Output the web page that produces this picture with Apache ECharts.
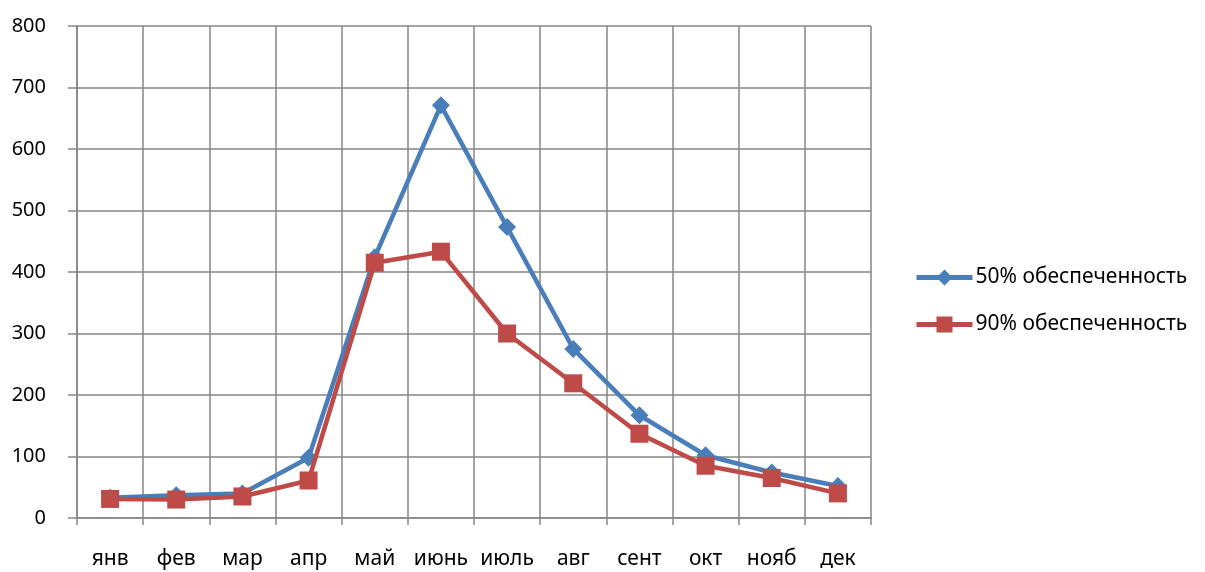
<!DOCTYPE html>
<html><head><meta charset="utf-8">
<script src="https://cdn.jsdelivr.net/npm/echarts@6/dist/echarts.min.js"></script>
<style>html,body{margin:0;padding:0;background:#fff}#c{width:1205px;height:572px}</style>
</head><body><div id="c"></div>
<script>
const categories = ['янв','фев','мар','апр','май','июнь','июль','авг','сент','окт','нояб','дек'];
const series50 = [33, 37, 40, 98, 424, 671, 473, 275, 167, 102, 74, 52];
const series90 = [31, 30, 35, 61, 415, 433, 300, 219, 137, 85, 65, 40];
const seriesNames = ['50% обеспеченность', '90% обеспеченность'];
const yTicks = {min: 0, max: 800, interval: 100};

const font = 'Noto Sans';
const chart = echarts.init(document.getElementById('c'));
chart.setOption({
  animation: false,
  backgroundColor: '#fff',
  grid: {left: 77, top: 26, right: 334, bottom: 54, containLabel: false},
  legend: {
    orient: 'vertical', left: 909, top: 262, itemGap: 26,
    itemWidth: 56, itemHeight: 20,
    lineStyle: {width: 5},
    textStyle: {fontFamily: font, fontSize: 21, color: '#000', padding: [0,0,0,-2]},
    data: seriesNames
  },
  xAxis: {
    type: 'category', data: categories, boundaryGap: true,
    axisLine: {lineStyle: {color: '#868686', width: 1.5}},
    axisTick: {show: true, interval: 0, length: 7, lineStyle: {color: '#868686', width: 1.5}},
    splitLine: {show: true, interval: 0, lineStyle: {color: '#868686', width: 1.5}},
    axisLabel: {interval: 0, fontFamily: font, fontSize: 21, color: '#000', margin: 31}
  },
  yAxis: {
    type: 'value', min: yTicks.min, max: yTicks.max, interval: yTicks.interval,
    axisLine: {show: true, lineStyle: {color: '#868686', width: 1.5}},
    axisTick: {show: true, length: 9, lineStyle: {color: '#868686', width: 1.5}},
    splitLine: {show: true, lineStyle: {color: '#868686', width: 1.5}},
    axisLabel: {fontFamily: font, fontSize: 20, color: '#000', margin: 31}
  },
  series: [
    {name: seriesNames[0], type: 'line', data: series50, symbol: 'diamond', symbolSize: 18,
     color: '#4A7EBB', lineStyle: {width: 4.5, color: '#4A7EBB'}, itemStyle: {color: '#4A7EBB'}, z: 2},
    {name: seriesNames[1], type: 'line', data: series90, symbol: 'rect', symbolSize: 18,
     color: '#BE4B48', lineStyle: {width: 4.5, color: '#BE4B48'}, itemStyle: {color: '#BE4B48'}, z: 3}
  ]
});
</script></body></html>
